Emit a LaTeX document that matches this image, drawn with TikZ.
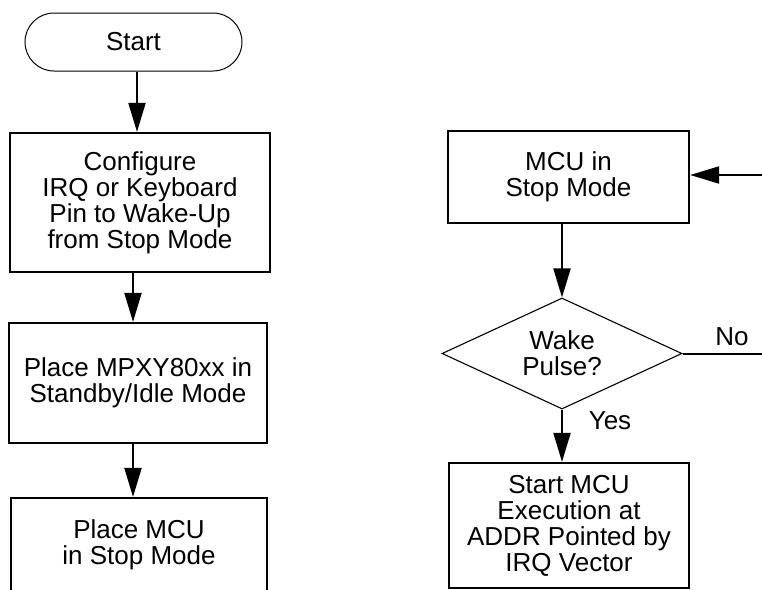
\documentclass[tikz,border=0pt]{standalone}
\usepackage{fontspec}
\setmainfont{Liberation Sans}
\usetikzlibrary{arrows.meta,shapes.geometric,shapes.misc}
\begin{document}
\begin{tikzpicture}[x=1pt,y=-1pt,
  every node/.style={font=\fontsize{26}{26}\selectfont, align=center, inner sep=0pt},
  terminal/.style={draw, rounded rectangle, line width=1pt, minimum width=217pt, minimum height=58pt},
  procbox/.style={draw, rectangle, line width=2.2pt},
  decision/.style={draw, diamond, aspect=2.16, line width=1.1pt, minimum width=240pt, minimum height=111pt},
  flow/.style={line width=2pt, -{Triangle[length=29pt,width=17pt]}}]
  \clip (0,0) rectangle (762,589);

  % left column
  \node[terminal] (start) at (133.5,42) {\raisebox{-2pt}{Start}};
  \node[procbox, minimum width=260pt, minimum height=139pt] (cfg) at (140,202.5)
    {Configure\\IRQ or Keyboard\\Pin to Wake-Up\\from Stop Mode};
  \node[procbox, minimum width=258pt, minimum height=120pt] (stby) at (138,383)
    {Place MPXY80xx in\\Standby/Idle Mode};
  \node[procbox, minimum width=256pt, minimum height=94pt] (stop) at (139,545)
    {Place MCU\\in Stop Mode};

  % right column
  \node[procbox, minimum width=241pt, minimum height=92pt] (mcu) at (568.5,177)
    {MCU in\\Stop Mode};
  \node[decision] (wake) at (562,353.5) {Wake\\Pulse?};
  \node[procbox, minimum width=240pt, minimum height=125pt] (exec) at (569,525.5)
    {Start MCU\\Execution at\\ADDR Pointed by\\IRQ Vector};

  % branch labels
  \node (no) at (732,337) {No};
  \node (yes) at (610,421) {Yes};

  % connectors
  \draw[flow] ([xshift=3.5pt]start.south) -- ([xshift=-3pt]cfg.north);
  \draw[flow] ([xshift=-7pt]cfg.south) -- ([xshift=-5pt]stby.north);
  \draw[flow] ([xshift=-5pt]stby.south) -- ([xshift=-6pt]stop.north);
  \draw[flow] (mcu.south -| wake.north) -- (wake.north);
  \draw[flow] (wake.south) -- (wake.south |- exec.north);
  \draw[flow] (wake.east) -- ++(100,0) |- ([yshift=2pt]mcu.east);
\end{tikzpicture}
\end{document}
